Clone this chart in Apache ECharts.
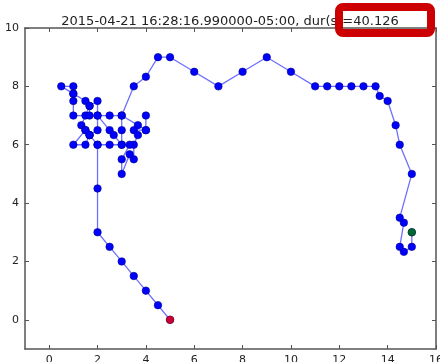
<!DOCTYPE html>
<html>
<head>
<meta charset="utf-8">
<script src="https://cdn.jsdelivr.net/npm/echarts@6/dist/echarts.min.js"></script>
<style>
  html, body { margin: 0; padding: 0; background: #fff; }
  #chart { width: 440px; height: 362px; }
</style>
</head>
<body>
<div id="chart"></div>
<script>
// Track of positions, in the order they were visited
const trackX = [15, 15, 14.67, 14.5, 14.67, 14.5, 15, 14.5, 14.33, 14, 13.67, 13.5, 13, 12.5, 12, 11.5, 11, 10, 9, 8, 7, 6, 5, 4.5, 4, 3.5,
  3, 3.67, 4, 4, 4, 3.5, 3.67, 3.5, 3.5, 3.33, 3, 3, 3.33, 3, 3, 3,
  2.5, 2, 2, 1.67, 1.5, 1, 0.5, 1, 1, 1, 1, 1.5, 1.67, 1.67, 1.33, 1.5, 1.67, 2, 2, 2.5, 2.67, 3, 2.5, 2, 1.67, 1.5, 1, 1.5, 1.67, 2,
  2, 2, 2.5, 3, 3.5, 4, 4.5, 5];
const trackY = [3, 2.5, 2.33, 2.5, 3.33, 3.5, 5, 6, 6.67, 7.5, 7.67, 8, 8, 8, 8, 8, 8, 8.5, 9, 8.5, 8, 8.5, 9, 9, 8.33, 8,
  7, 6.67, 6.5, 7, 6.5, 6.5, 6.33, 6, 5.5, 5.67, 5, 5.5, 6, 6, 6.5, 7,
  7, 7, 7.5, 7.33, 7.5, 7.75, 8, 8, 7.75, 7.5, 7, 7, 7, 7.33, 6.67, 6.5, 6.33, 6.5, 7, 6.5, 6.33, 6, 6, 6, 6.33, 6, 6, 6.5, 6.33, 6,
  4.5, 3, 2.5, 2, 1.5, 1, 0.5, 0];

const xTicks = [0, 2, 4, 6, 8, 10, 12, 14, 16];
const yTicks = [0, 2, 4, 6, 8, 10];
const titleText = '2015-04-21 16:28:16.990000-05:00, dur(s)=40.126';

const track = trackX.map((x, i) => [x, trackY[i]]);
const startPoint = [track[0]];
const endPoint = [track[track.length - 1]];

const frameColor = '#555';
const labelStyle = { color: '#222', fontSize: 11, fontFamily: 'DejaVu Sans' };

function xAxisDef(pos, labels) {
  return {
    type: 'value', position: pos, min: -1, max: 16,
    axisLine: { show: true, onZero: false, lineStyle: { color: frameColor, width: 1.5 } },
    axisTick: { show: true, inside: true, length: 4, customValues: xTicks, lineStyle: { color: frameColor } },
    axisLabel: labels ? Object.assign({ show: true, customValues: xTicks, margin: 6 }, labelStyle) : { show: false },
    splitLine: { show: false }
  };
}
function yAxisDef(pos, labels) {
  return {
    type: 'value', position: pos, min: -1, max: 10,
    axisLine: { show: true, onZero: false, lineStyle: { color: frameColor, width: 1.5 } },
    axisTick: { show: true, inside: true, length: 4, customValues: yTicks, lineStyle: { color: frameColor } },
    axisLabel: labels ? Object.assign({ show: true, customValues: yTicks, margin: 6 }, labelStyle) : { show: false },
    splitLine: { show: false }
  };
}

const chart = echarts.init(document.getElementById('chart'));
chart.setOption({
  animation: false,
  backgroundColor: '#fff',
  title: {
    text: titleText, left: 225, top: 10, textAlign: 'center',
    textStyle: { fontSize: 13, fontWeight: 'normal', color: '#222', fontFamily: 'DejaVu Sans' }
  },
  grid: { left: 25, right: 4, top: 28, bottom: 13, containLabel: false, outerBoundsMode: 'none' },
  xAxis: [xAxisDef('bottom', true), xAxisDef('top', false)],
  yAxis: [yAxisDef('left', true), yAxisDef('right', false)],
  series: [
    {
      type: 'line', data: track, showAllSymbol: true,
      symbol: 'circle', symbolSize: 7.5,
      lineStyle: { color: '#6e6eff', width: 1.3 },
      itemStyle: { color: '#0000ff', borderColor: '#00008a', borderWidth: 0.6 },
      z: 2
    },
    {
      type: 'scatter', data: startPoint, symbolSize: 7.5,
      itemStyle: { color: '#008000', borderColor: '#004000', borderWidth: 0.6 }, z: 3
    },
    {
      type: 'scatter', data: endPoint, symbolSize: 7.5,
      itemStyle: { color: '#ff0000', borderColor: '#800000', borderWidth: 0.6 }, z: 3
    }
  ],
  graphic: [
    {
      type: 'rect', z: 100,
      shape: { x: 339, y: 7, width: 92, height: 26, r: 4 },
      style: { fill: 'none', stroke: '#cc0000', lineWidth: 8 }
    }
  ]
});
</script>
</body>
</html>
